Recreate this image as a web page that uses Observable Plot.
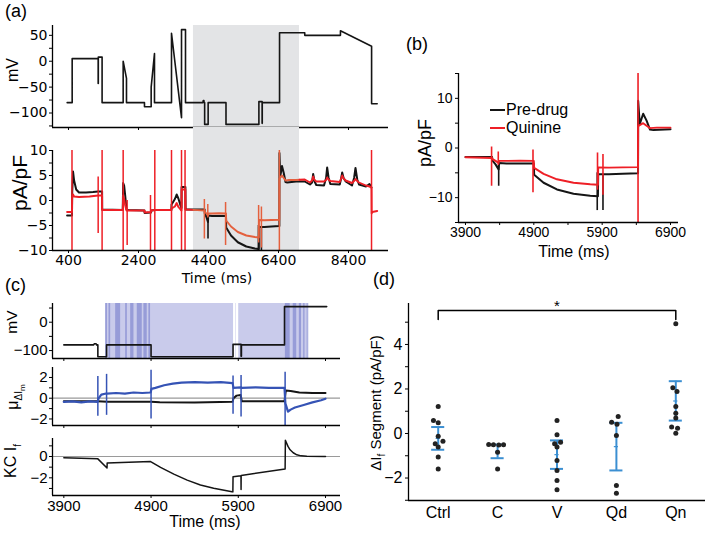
<!DOCTYPE html>
<html><head><meta charset="utf-8">
<script src="https://cdn.jsdelivr.net/npm/d3@7"></script>
<script src="https://cdn.jsdelivr.net/npm/@observablehq/plot@0.6"></script>
<style>
body{margin:0;background:#fff;}
#fig{position:relative;width:709px;height:533px;overflow:hidden;background:#fff;font-family:"Liberation Sans",Arial,sans-serif;color:#000;}
.lbl{position:absolute;white-space:nowrap;line-height:1;}
.rot{transform:translate(-50%,-50%) rotate(-90deg);}
.ctr{transform:translate(-50%,-50%);}
</style></head>
<body><div id="fig"></div>
<script>
// ---------- DATA ----------
// voltage protocol (ms, mV)
const protoT = [362,505,505,1248,1248,1252,1252,1360,1360,1962,1962,2057,2057,2571,2571,2762,2762,2857,2857,3343,3343,3629,3629,3743,3743,4240,4250,4270,4275,4290,4290,4390,4390,4900,4900,5840,5840,5932,5932,5936,5936,6430,6430,7150,7150,8170,8170,9060,9060,9220];
const protoV = [-80,-80,5,5,-43,-43,8,8,-80,-80,0,-33,-80,-80,-88,-88,-50,15,-80,-80,54,-109,61,61,-80,-80,-76,-76,-80,-80,-122,-122,-80,-80,-122,-122,-78,-78,-120,-120,-80,-80,55,55,50,50,59,29,-82,-82];
// pre-drug current (pA/pF)
const blackT = [360,500,505,530,560,620,700,900,1100,1248,1360,1362,1950,1962,1990,2020,2057,2100,2570,2575,2760,2765,2860,3340,3345,3440,3490,3540,3600,3629,3632,3740,3745,4290,4292,4340,4385,4392,4500,4700,4900,4905,5043,5238,5481,5725,5838,5842,6000,6200,6425,6427,6450,6500,6550,6600,6650,6900,7150,7300,7360,7390,7430,7480,7700,7760,7790,7830,7880,8150,8190,8220,8260,8320,8500,8560,8600,8650,8700,8900,9000,9058];
const blackV = [-3,-3,1.5,5.8,4,2.2,1.6,1.6,1.7,1.8,1.8,-1.8,-1.9,3.5,3,1,-1.8,-1.9,-2,-2.5,-2.4,-2,-1.9,-1.9,-0.8,0.3,1.2,0.4,-1,-1.5,2.7,2.7,-1.8,-1.8,-2.5,-3.3,-4.3,-3,-3.1,-3.1,-3.1,-5.4,-7,-8.35,-9.2,-9.6,-9.7,-5.3,-5.3,-5.2,-5.1,9.5,4.8,6.9,5.5,3.7,3.6,3.8,3.8,3.2,3.6,5.3,3.8,3.1,3,4.5,6.6,4.6,3.3,3.2,4.4,5.6,4.5,3.8,3,4.5,6.5,4.2,3.2,2.8,3.3,2.6];
// quinine current (pA/pF)
const redT = [360,500,505,530,560,700,1000,1248,1360,1362,1950,1962,1990,2020,2057,2570,2575,2760,2765,2860,3340,3345,3440,3490,3540,3600,3629,3632,3740,3745,4290,4292,4340,4385,4392,4500,4700,4900,4905,5043,5238,5481,5725,5838,5842,6000,6200,6425,6427,6450,6500,6550,6600,6700,6900,7150,7300,7360,7390,7430,7480,7700,7760,7790,7830,7880,8150,8190,8220,8260,8320,8500,8560,8600,8650,8700,8900,9000,9058,9062,9080,9220];
const redV = [-2.3,-2.3,0.5,1.2,0.8,0.7,0.8,1,1,-1.9,-1.9,1,0.3,-1,-2,-2,-2.4,-2.3,-2,-1.9,-1.9,-1.6,-1.2,-0.5,-1.3,-1.8,-2,2.2,2.2,-1.8,-2,-2.2,-2.6,-3,-2.6,-2.6,-2.55,-2.6,-4,-5.2,-6.3,-7,-7.3,-7.4,-3.9,-3.95,-3.9,-3.85,4.4,4.6,5,4.5,4,4.1,4.1,4.2,3.6,4,4.8,4.1,3.8,3.8,4.1,4.6,4.2,3.9,3.7,4.4,5,4.4,4,3.5,3.9,4.3,3.9,3.6,3,2.8,2.5,-2.6,-2.3,-2.1];
// capacitive transients
const redSpikeT  = [500,1248,1360,1962,2076,2743,2866,3343,3629,3730,4282,4380,4888,5832,5912,6425,9058];
const redSpikeLo = [-30,-6.6,-30,-30,-9,-10.5,-30,-30,-30,-30,-7.7,-3.5,-9,-8.5,-9.5,-30,-30];
const redSpikeHi = [30,4.7,30,30,0,1,30,30,30,30,0.2,-0.8,-0.4,-1,-1.3,30,30];
const blackSpikeT  = [4386,5828,5912];
const blackSpikeLo = [-7.7,-12.6,-12.6];
const blackSpikeHi = [-3.6,-5,-5.3];
const shadeStart = [3970], shadeEnd = [7000];
// (c) mean current difference
const muBlueT = [3900,4000,4100,4200,4285,4300,4330,4385,4395,4500,4600,4700,4800,4895,4905,4950,5050,5150,5250,5400,5550,5700,5835,5845,5930,5940,6100,6250,6430,6440,6470,6500,6550,6650,6750,6850,6900];
const muBlueV = [-0.35,-0.3,-0.4,-0.3,-0.35,0,0.35,0.45,0.45,0.5,0.45,0.55,0.5,0.55,0.9,1,1.25,1.4,1.5,1.55,1.5,1.55,1.45,1,1.05,1,1.05,1,1,-0.5,-1.3,-1.1,-0.9,-0.65,-0.4,-0.2,-0.05];
const muBlackT = [3900,4285,4400,4900,5000,5400,5835,5845,5880,5928,5940,6430,6445,6500,6600,6750,6900];
const muBlackV = [-0.3,-0.3,-0.35,-0.35,-0.4,-0.42,-0.35,0,0.25,0.3,-0.3,-0.3,0.75,0.7,0.55,0.5,0.5];
const muSpikeT  = [4290,4390,4900,5840,5932,6437];
const muSpikeLo = [-1.75,-1.65,-2,-1.55,-1.8,-3];
const muSpikeHi = [2.1,2.3,2.7,2.15,2.2,2.5];
// (c) KC I_f
const kcT = [3900,4290,4395,4397,4895,4900,5009,5161,5314,5466,5618,5828,5838,5840,5931,5932,5933,6437,6440,6470,6494,6530,6571,6620,6686,6900];
const kcV = [-0.12,-0.22,-1.08,-0.6,-0.48,-0.5,-1.02,-1.65,-2.22,-2.67,-2.98,-3.3,-3.32,-1.9,-1.8,-3.1,-1.78,-1.17,1.52,0.95,0.63,0.35,0.16,0.06,0.02,0];
// (c) significance bands
const bandLightStart = [4380,5870,5905];
const bandLightEnd   = [5846,5876,6710];
const bandDarkStart = [4380,4418,4494,4609,4666,4742,4818,4875,6440,6530,6600,6650,6690];
const bandDarkEnd   = [4400,4437,4551,4628,4704,4799,4856,4894,6495,6570,6625,6665,6700];
// (d) segment differences
const groups = ["Ctrl","C","V","Qd","Qn"];
const ctrlPts = [1.21,0.58,0.48,-0.12,-0.35,-0.46,-0.61,-1.06,-1.59];
const ctrlJit = [0,-0.08,0,0,0.08,-0.05,0,0,0];
const cPts = [-0.49,-0.5,-0.52,-0.5,-0.84,-1.59];
const cJit = [-0.15,-0.07,0.02,0.1,0,0];
const vPts = [0.58,-0.06,-0.39,-0.46,-0.61,-1.21,-1.66,-2.11,-2.53];
const vJit = [0,0,0.06,-0.04,0,0,0,0,0];
const qdPts = [0.76,0.51,0.42,-0.09,-2.34,-2.68];
const qdJit = [0.03,-0.08,0.01,0,0,0];
const qnPts = [4.93,2.05,1.89,1.21,0.91,0.70,0.29,0.24,0.01];
const qnJit = [0,-0.05,0.02,0,0,0,-0.07,0.03,0];
const errHi  = [0.29,-0.5,-0.31,0.48,2.35];
const errLo  = [-0.73,-1.11,-1.59,-1.66,0.58];
const errMid = [-0.22,-0.8,-0.95,-0.59,1.46];
const sigPair = ["Ctrl","Qn"], sigLevel = 5.53, sigDrop = 5.12, sigStar = 5.85;

// ---------- HELPERS ----------
const fig = document.getElementById("fig");
const zip = (T, V) => T.map((t, i) => ({t, v: V[i]}));
const spikes = (T, L, H) => T.map((t, i) => ({t, lo: L[i], hi: H[i]}));
function slice(T, V, t0, t1) {
  const out = [];
  for (let i = 0; i < T.length; i++) {
    if (i > 0 && T[i-1] < t0 && T[i] > t0) out.push({t: t0, v: V[i-1] + (V[i]-V[i-1])*(t0-T[i-1])/(T[i]-T[i-1])});
    if (T[i] >= t0 && T[i] <= t1) out.push({t: T[i], v: V[i]});
    if (i > 0 && T[i-1] < t1 && T[i] > t1) out.push({t: t1, v: V[i-1] + (V[i]-V[i-1])*(t1-T[i-1])/(T[i]-T[i-1])});
  }
  return out;
}
const num = d => d < 0 ? "\u2212" + (-d) : String(d);
const fmt = labels => d => labels.includes(d) ? num(d) : "";
function addPlot(box, m, opts, font) {
  const [x0, x1, y0, y1] = box, [mt, mr, mb, ml] = m;
  const svg = Plot.plot(Object.assign({
    width: x1 - x0 + ml + mr, height: y1 - y0 + mt + mb,
    marginTop: mt, marginRight: mr, marginBottom: mb, marginLeft: ml,
    style: Object.assign({background: "transparent", overflow: "visible", color: "black"}, font)
  }, opts));
  svg.style.position = "absolute";
  svg.style.left = (x0 - ml) + "px";
  svg.style.top = (y0 - mt) + "px";
  fig.appendChild(svg);
}
function text(html, x, y, cls, style) {
  const d = document.createElement("div");
  d.className = "lbl " + cls;
  d.innerHTML = html;
  d.style.left = x + "px"; d.style.top = y + "px";
  Object.assign(d.style, style || {});
  fig.appendChild(d);
}
const RED = "#ee1f26", RED_IN = "#e4603e", BLK = "#151515", BLUE = "#3553b5", EBLUE = "#3b8fd2", GREY = "#e3e4e6";
const fontA = {fontFamily: "'DejaVu Sans', sans-serif", fontSize: "14px"};
const fontB = {fontFamily: "'Liberation Sans', Arial, sans-serif", fontSize: "14px"};
const fontC = {fontFamily: "'Liberation Sans Narrow', 'Liberation Sans', sans-serif", fontSize: "15px"};
const fontD = {fontFamily: "'Liberation Sans', Arial, sans-serif", fontSize: "16px"};

// ---------- (a) ----------
const xA = [-57, 9543];
const shade = shadeStart.map((s, i) => ({s, e: shadeEnd[i]}));
const protoAll = zip(protoT, protoV);
addPlot([52, 388, 25, 127], [4, 8, 6, 52], {
  x: {domain: xA, ticks: [400, 2400, 4400, 6400, 8400], tickFormat: () => "", tickSize: 3, label: null},
  y: {domain: [-128, 69], ticks: [-125, -100, -75, -50, -25, 0, 25, 50], tickFormat: fmt([-100, -50, 0, 50]), tickSize: 3, tickPadding: 2, label: null},
  marks: [
    Plot.rect(shade, {x1: "s", x2: "e", fill: GREY}),
    Plot.line(protoAll, {x: "t", y: "v", stroke: BLK, strokeWidth: 1.6}),
    Plot.ruleX([xA[0]], {stroke: "black", strokeWidth: 1.3}),
    Plot.ruleY([-128], {stroke: "black", strokeWidth: 1.3})
  ]
}, fontA);
const inShade = t => t >= shadeStart[0] && t <= shadeEnd[0];
const rs = spikes(redSpikeT, redSpikeLo, redSpikeHi);
addPlot([52, 388, 150, 250], [23, 8, 24, 52], {
  x: {domain: xA, ticks: [400, 2400, 4400, 6400, 8400], tickSize: 3, tickPadding: 2, tickFormat: d => String(d), label: null},
  y: {domain: [-10, 10], ticks: [-10, -7.5, -5, -2.5, 0, 2.5, 5, 7.5, 10], tickFormat: fmt([-10, -5, 0, 5, 10]), tickSize: 3, tickPadding: 2, label: null},
  marks: [
    Plot.rect(shade, {x1: "s", x2: "e", fill: GREY, insetTop: -23}),
    Plot.line(zip(blackT, blackV), {x: "t", y: "v", stroke: BLK, strokeWidth: 2, clip: true}),
    Plot.ruleX(spikes(blackSpikeT, blackSpikeLo, blackSpikeHi), {x: "t", y1: "lo", y2: "hi", stroke: BLK, strokeWidth: 1.6, clip: true}),
    Plot.line(slice(redT, redV, -1e9, shadeStart[0]), {x: "t", y: "v", stroke: RED, strokeWidth: 1.9, clip: true}),
    Plot.line(slice(redT, redV, shadeStart[0], shadeEnd[0]), {x: "t", y: "v", stroke: RED_IN, strokeWidth: 1.9, clip: true}),
    Plot.line(slice(redT, redV, shadeEnd[0], 1e9), {x: "t", y: "v", stroke: RED, strokeWidth: 1.9, clip: true}),
    Plot.ruleX(rs, {x: "t", y1: "lo", y2: "hi", stroke: d => inShade(d.t) ? RED_IN : RED, strokeWidth: 1.5, clip: true}),
    Plot.ruleX([xA[0]], {stroke: "black", strokeWidth: 1.3}),
    Plot.ruleY([-10], {stroke: "black", strokeWidth: 1.3})
  ]
}, fontA);

// ---------- (b) ----------
const xB = [3798, 7017];
const inB = d => d.t >= 3900 && d.t <= 6900;
addPlot([458, 678, 73, 222], [4, 12, 24, 45], {
  x: {domain: xB, ticks: [3900, 4400, 4900, 5400, 5900, 6400, 6900], tickFormat: fmt([3900, 4900, 5900, 6900]), tickSize: 3, tickPadding: 2, label: null},
  y: {domain: [-15, 15], ticks: [-15, -10, -5, 0, 5, 10, 15], tickFormat: fmt([-10, 0, 10]), tickSize: 3, tickPadding: 3, label: null},
  marks: [
    Plot.line(slice(blackT, blackV, 3900, 6900), {x: "t", y: "v", stroke: BLK, strokeWidth: 2, clip: true}),
    Plot.ruleX(spikes(blackSpikeT, blackSpikeLo, blackSpikeHi).filter(inB), {x: "t", y1: "lo", y2: "hi", stroke: BLK, strokeWidth: 1.6, clip: true}),
    Plot.line(slice(redT, redV, 3900, 6900), {x: "t", y: "v", stroke: RED, strokeWidth: 1.9, clip: true}),
    Plot.ruleX(rs.filter(inB), {x: "t", y1: "lo", y2: "hi", stroke: RED, strokeWidth: 1.6, clip: true}),
    Plot.ruleX([xB[0]], {stroke: "black", strokeWidth: 1.3}),
    Plot.ruleY([-15], {stroke: "black", strokeWidth: 1.3})
  ]
}, fontB);

// ---------- (c) ----------
const xC = [3770, 7072];
const xTicksC = [3900, 4900, 5900, 6900];
const light = bandLightStart.map((s, i) => ({s, e: bandLightEnd[i]}));
const dark = bandDarkStart.map((s, i) => ({s, e: bandDarkEnd[i]}));
addPlot([52, 340, 303, 358], [4, 10, 6, 52], {
  x: {domain: xC, ticks: xTicksC, tickFormat: () => "", tickSize: 3, label: null},
  y: {domain: [-128, 66], ticks: [-100, -50, 0, 50], tickFormat: fmt([-100, 0]), tickSize: 3, tickPadding: 2, label: null},
  marks: [
    Plot.rect(light, {x1: "s", x2: "e", fill: "#c9cbeb"}),
    Plot.rect(dark, {x1: "s", x2: "e", fill: "#5c64c0", fillOpacity: 0.45}),
    Plot.line(slice(protoT, protoV, 3900, 6914), {x: "t", y: "v", stroke: BLK, strokeWidth: 1.6}),
    Plot.ruleX([xC[0]], {stroke: "black", strokeWidth: 1.3}),
    Plot.ruleY([-128], {stroke: "black", strokeWidth: 1.3})
  ]
}, fontC);
addPlot([52, 340, 367, 425], [4, 10, 6, 52], {
  x: {domain: xC, ticks: xTicksC, tickFormat: () => "", tickSize: 3, label: null},
  y: {domain: [-2.63, 2.96], ticks: [-2, -1, 0, 1, 2], tickFormat: fmt([-2, 0, 2]), tickSize: 3, tickPadding: 2, label: null},
  marks: [
    Plot.ruleY([0], {stroke: "#9a9a9a", strokeWidth: 1.2}),
    Plot.line(zip(muBlackT, muBlackV), {x: "t", y: "v", stroke: BLK, strokeWidth: 2}),
    Plot.line(zip(muBlueT, muBlueV), {x: "t", y: "v", stroke: BLUE, strokeWidth: 2.2}),
    Plot.ruleX(spikes(muSpikeT, muSpikeLo, muSpikeHi), {x: "t", y1: "lo", y2: "hi", stroke: BLUE, strokeWidth: 1.5, clip: true}),
    Plot.ruleX([xC[0]], {stroke: "black", strokeWidth: 1.3}),
    Plot.ruleY([-2.63], {stroke: "black", strokeWidth: 1.3})
  ]
}, fontC);
addPlot([52, 340, 438, 495], [4, 10, 24, 52], {
  x: {domain: xC, ticks: xTicksC, tickFormat: d => String(d), tickSize: 3, tickPadding: 2, label: null},
  y: {domain: [-3.66, 1.69], ticks: [-3, -2, -1, 0, 1], tickFormat: fmt([-2, 0]), tickSize: 3, tickPadding: 2, label: null},
  marks: [
    Plot.ruleY([0], {stroke: "#9a9a9a", strokeWidth: 1.2}),
    Plot.line(zip(kcT, kcV), {x: "t", y: "v", stroke: BLK, strokeWidth: 1.5}),
    Plot.ruleX([xC[0]], {stroke: "black", strokeWidth: 1.3}),
    Plot.ruleY([-3.66], {stroke: "black", strokeWidth: 1.3})
  ]
}, fontC);

// ---------- (d) ----------
const ptsByGroup = [[ctrlPts, ctrlJit], [cPts, cJit], [vPts, vJit], [qdPts, qdJit], [qnPts, qnJit]];
const dots = ptsByGroup.flatMap(([p, j], g) => p.map((v, i) => ({x: g + j[i], v})));
const errs = groups.map((g, i) => ({i, hi: errHi[i], lo: errLo[i], mid: errMid[i]}));
const CAP = 0.11, MID = 0.035;
const a = groups.indexOf(sigPair[0]), b = groups.indexOf(sigPair[1]);
const bracket = [{x: a, y: sigDrop}, {x: a, y: sigLevel}, {x: b, y: sigLevel}, {x: b, y: sigDrop}];
addPlot([408, 705, 303, 500], [14, 3, 26, 40], {
  x: {domain: [-0.5, 4.5], ticks: [0, 1, 2, 3, 4], tickFormat: i => groups[i], tickSize: 0, tickPadding: 6, label: null},
  y: {domain: [-3.01, 5.84], ticks: [-3, -2, -1, 0, 1, 2, 3, 4, 5], tickFormat: fmt([-2, 0, 2, 4]), tickSize: 3, tickPadding: 3, label: null},
  marks: [
    Plot.ruleX(errs, {x: "i", y1: "lo", y2: "hi", stroke: EBLUE, strokeWidth: 2}),
    Plot.ruleY(errs, {y: "hi", x1: d => d.i - CAP, x2: d => d.i + CAP, stroke: EBLUE, strokeWidth: 2}),
    Plot.ruleY(errs, {y: "lo", x1: d => d.i - CAP, x2: d => d.i + CAP, stroke: EBLUE, strokeWidth: 2}),
    Plot.ruleY(errs, {y: "mid", x1: d => d.i - MID, x2: d => d.i + MID, stroke: EBLUE, strokeWidth: 1.2}),
    Plot.dot(dots, {x: "x", y: "v", r: 2.5, fill: "#222", stroke: "none"}),
    Plot.line(bracket, {x: "x", y: "y", stroke: "black", strokeWidth: 1.5}),
    Plot.text([{x: (a + b) / 2, y: sigStar}], {x: "x", y: "y", text: () => "*", fontSize: 15, dy: 3}),
    Plot.ruleX([-0.5], {stroke: "black", strokeWidth: 1.3}),
    Plot.ruleY([-3.01], {stroke: "black", strokeWidth: 1.3})
  ]
}, fontD);

// ---------- TEXT ----------
const pl = {fontSize: "18px"};
text("(a)", 5, 2, "", pl);
text("(b)", 406, 35, "", pl);
text("(c)", 5, 276, "", pl);
text("(d)", 373, 270, "", pl);
text("mV", 12.5, 70, "rot", {fontSize: "16px"});
text("pA/pF", 19, 183, "rot", {fontSize: "21px"});
text("Time (ms)", 217, 278, "ctr", {fontFamily: "'DejaVu Sans'", fontSize: "14px"});
text("pA/pF", 425, 143, "rot", {fontSize: "18px"});
text("Time (ms)", 574, 252, "ctr", {fontSize: "16px"});
text("mV", 12, 322, "rot", {fontSize: "15.5px"});
text("&mu;<sub style='font-size:10px'>&Delta;I<sub style='font-size:8px'>m</sub></sub>", 16, 397, "rot", {fontSize: "16px"});
text("KC I<sub style='font-size:10px'>f</sub>", 13, 461, "rot", {fontSize: "16px"});
text("Time (ms)", 205, 522, "ctr", {fontSize: "16px"});
text("&Delta;I<sub style='font-size:10px'>f</sub> Segment (pA/pF)", 377, 403, "rot", {fontSize: "15px"});
// legend (b)
const leg = [["Pre-drug", BLK, 110], ["Quinine", RED, 128]];
for (const [name, col, y] of leg) {
  const ln = document.createElement("div");
  Object.assign(ln.style, {position: "absolute", left: "490px", top: (y - 1) + "px", width: "15px", height: "2px", background: col});
  fig.appendChild(ln);
  text(name, 506, y - 8.5, "", {fontSize: "16px"});
}
</script></body></html>
